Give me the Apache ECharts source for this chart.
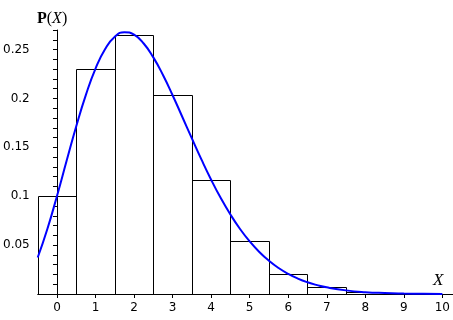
<!DOCTYPE html>
<html><head><meta charset="utf-8">
<script src="https://cdn.jsdelivr.net/npm/echarts@6/dist/echarts.min.js"></script>
<style>html,body{margin:0;padding:0;background:#fff}#c{width:453px;height:320px}</style>
</head><body><div id="c"></div>
<script>
// Histogram bars: value k and probability
const barX = [0,1,2,3,4,5,6,7,8,9,10];
const barP = [0.1003,0.2306,0.2652,0.2033,0.1169,0.0538,0.0206,0.0068,0.0019,0.0005,0.0001];
// Smooth curve sample points
const curveX = [-0.5,-0.25,0,0.25,0.5,0.75,1,1.25,1.5,1.75,2,2.25,2.5,2.75,3,3.25,3.5,3.75,4,4.25,4.5,4.75,5,5.25,5.5,5.75,6,6.25,6.5,6.75,7,7.5,8,8.5,9,9.5,10];
const curveY = [0.0373,0.0664,0.1003,0.1362,0.1716,0.2037,0.2306,0.2506,0.2631,0.2678,0.2652,0.2562,0.2420,0.2240,0.2033,0.1813,0.1591,0.1374,0.1169,0.0981,0.0813,0.0665,0.0538,0.0430,0.0340,0.0266,0.0206,0.0158,0.0120,0.0091,0.0068,0.0037,0.0019,0.0010,0.0005,0.0002,0.0001];
const xTicks = [0,1,2,3,4,5,6,7,8,9,10];
const yLabels = [0.05,0.1,0.15,0.2,0.25];
const yTicks = [0.01,0.02,0.03,0.04,0.05,0.06,0.07,0.08,0.09,0.1,0.11,0.12,0.13,0.14,0.15,0.16,0.17,0.18,0.19,0.2,0.21,0.22,0.23,0.24,0.25,0.26,0.27];

const chart = echarts.init(document.getElementById('c'), null, {renderer:'canvas'});
chart.setOption({
  animation:false,
  backgroundColor:'#fff',
  grid:{left:36,right:8,top:30,bottom:26,containLabel:false},
  xAxis:{type:'value',min:-0.5,max:10,
    axisLine:{lineStyle:{color:'#000',width:1}},
    axisTick:{customValues:xTicks,length:4,lineStyle:{color:'#000'}},
    axisLabel:{customValues:xTicks,color:'#000',fontFamily:'DejaVu Sans',fontSize:12,margin:8},
    splitLine:{show:false}},
  yAxis:{type:'value',min:0,max:0.27,
    axisLine:{show:true,lineStyle:{color:'#000',width:1}},
    axisTick:{show:true,customValues:yTicks,length:4,lineStyle:{color:'#000'}},
    axisLabel:{customValues:yLabels,color:'#000',fontFamily:'DejaVu Sans',fontSize:12,margin:8},
    splitLine:{show:false}},
  graphic:[
    {type:'text',left:37,top:11,style:{
      text:'{b|P}{n|(}{i|X}{n|)}',
      rich:{b:{fontFamily:'Liberation Serif',fontWeight:'bold',fontSize:16,fill:'#000'},
            n:{fontFamily:'Liberation Serif',fontSize:16,fill:'#000'},
            i:{fontFamily:'Liberation Serif',fontStyle:'italic',fontSize:16,fill:'#000'}}}},
    {type:'text',left:433,top:272,style:{text:'X',fontFamily:'Liberation Serif',fontStyle:'italic',fontSize:17,fill:'#000'}}
  ],
  series:[
    {type:'custom',z:1,data:barX.map((k,i)=>[k,barP[i]]),
     renderItem:function(params,api){
       const k=api.value(0),p=api.value(1);
       const a=api.coord([k-0.5,p]),b=api.coord([k+0.5,0]);
       return {type:'rect',shape:{x:Math.round(a[0])+0.5,y:Math.round(a[1])+0.5,width:Math.round(b[0])-Math.round(a[0]),height:Math.round(b[1])-Math.round(a[1])},
         style:{fill:'none',stroke:'#000',lineWidth:1}};
     }},
    {type:'line',z:2,data:curveX.map((x,i)=>[x,curveY[i]]),smooth:true,symbol:'none',
     lineStyle:{color:'#0000ff',width:2}}
  ]
});
</script></body></html>
